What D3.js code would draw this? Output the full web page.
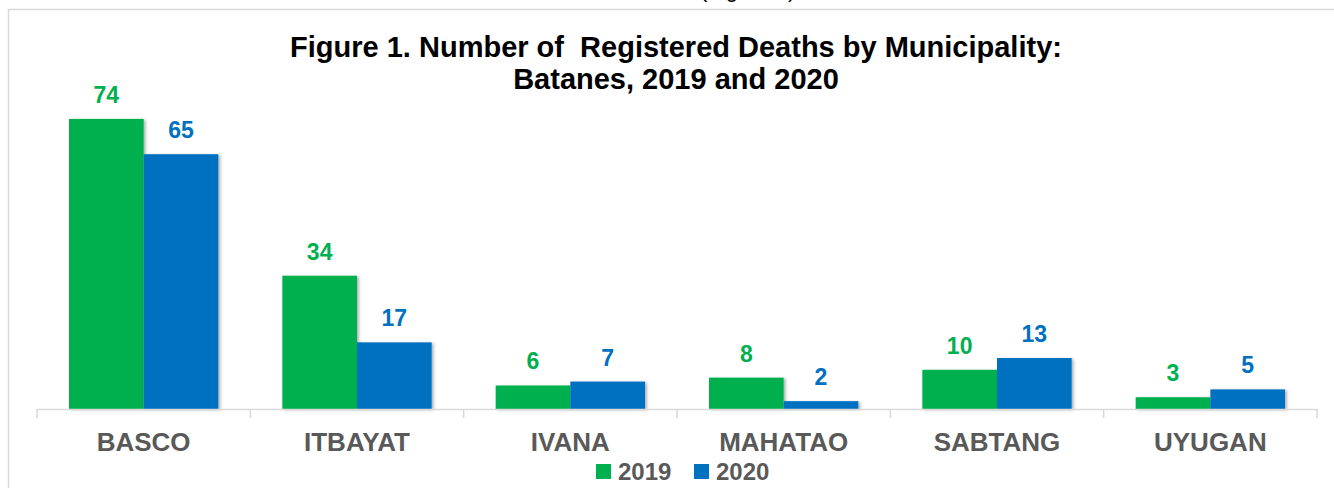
<!DOCTYPE html>
<html lang="en">
<head>
  <meta charset="UTF-8">
  <title>Registered Deaths by Municipality: Batanes</title>
  <script src="https://d3js.org/d3.v7.min.js"></script>
  <style>
    body { margin: 0; background: #fff; font-family: Arial, "Liberation Sans", sans-serif; }
    svg { display: block; }
    .title { font-size: 29px; font-weight: bold; fill: #000; }
    .cat-label { font-size: 26px; font-weight: bold; fill: #595959; }
    .val-label { font-size: 23px; font-weight: bold; }
    .legend-text { font-size: 24px; font-weight: bold; fill: #595959; }
  </style>
</head>
<body>
  <svg id="chart"></svg>
  <script>
    // Data
    const municipalities = ["BASCO", "ITBAYAT", "IVANA", "MAHATAO", "SABTANG", "UYUGAN"];
    const deaths2019 = [74, 34, 6, 8, 10, 3];
    const deaths2020 = [65, 17, 7, 2, 13, 5];
    const seriesNames = ["2019", "2020"];
    const seriesColors = ["#00B050", "#0070C0"];

    const W = 1334, H = 488;
    const svg = d3.select("#chart").attr("width", W).attr("height", H);

    // Drop shadow for bars
    const defs = svg.append("defs");
    const f = defs.append("filter").attr("id", "shadow")
      .attr("x", "-10%").attr("y", "-10%").attr("width", "130%").attr("height", "130%");
    f.append("feDropShadow").attr("dx", 2).attr("dy", 1).attr("stdDeviation", 1.5)
      .attr("flood-color", "#000").attr("flood-opacity", 0.3);

    // Cut-off text from the page above
    svg.append("text").attr("x", 700).attr("y", -3)
      .style("font-size", "22px").text("(Figure 1)");

    // Chart frame
    svg.append("path")
      .attr("d", `M8.5,${H} V9.5 H${W}`)
      .attr("fill", "none").attr("stroke", "#d9d9d9").attr("stroke-width", 1.5);

    // Title
    const title = svg.append("text").attr("class", "title").attr("text-anchor", "middle");
    title.append("tspan").attr("x", 676).attr("y", 57)
      .style("white-space", "pre")
      .text("Figure 1. Number of  Registered Deaths by Municipality:");
    title.append("tspan").attr("x", 676).attr("y", 89).text("Batanes, 2019 and 2020");

    // Scales
    const x0 = d3.scaleBand().domain(municipalities).range([37, 1317]).paddingInner(0).paddingOuter(0);
    const y = d3.scaleLinear().domain([0, 80]).range([409, 95.4]);
    const innerPad = 32;
    const x1 = d3.scaleBand().domain(seriesNames)
      .range([innerPad, x0.bandwidth() - innerPad]).padding(0);

    const data = municipalities.map((m, i) => ({
      name: m,
      values: [
        { key: "2019", value: deaths2019[i], color: seriesColors[0] },
        { key: "2020", value: deaths2020[i], color: seriesColors[1] }
      ]
    }));

    // Bars
    const groups = svg.append("g").selectAll("g").data(data).join("g")
      .attr("transform", d => `translate(${x0(d.name)},0)`);

    groups.selectAll("rect").data(d => d.values).join("rect")
      .attr("x", d => x1(d.key))
      .attr("y", d => y(d.value))
      .attr("width", x1.bandwidth())
      .attr("height", d => y(0) - y(d.value))
      .attr("fill", d => d.color)
      .attr("filter", "url(#shadow)");

    groups.selectAll("text.val-label").data(d => d.values).join("text")
      .attr("class", "val-label")
      .attr("text-anchor", "middle")
      .attr("x", d => x1(d.key) + x1.bandwidth() / 2)
      .attr("y", d => y(d.value) - 16)
      .attr("fill", d => d.color)
      .text(d => d.value);

    // X axis
    const axis = svg.append("g").attr("transform", `translate(0,${y(0)})`)
      .call(d3.axisBottom(x0).tickSize(0).tickFormat(""));
    axis.select(".domain").attr("stroke", "#d9d9d9").attr("stroke-width", 1.5);
    const bounds = municipalities.map(m => x0(m)).concat([x0.range()[1]]);
    axis.selectAll("line.sep").data(bounds).join("line")
      .attr("class", "sep")
      .attr("x1", d => d).attr("x2", d => d)
      .attr("y1", 0).attr("y2", 9)
      .attr("stroke", "#d9d9d9").attr("stroke-width", 1.5);

    svg.append("g").selectAll("text").data(municipalities).join("text")
      .attr("class", "cat-label")
      .attr("text-anchor", "middle")
      .attr("x", d => x0(d) + x0.bandwidth() / 2)
      .attr("y", 451)
      .text(d => d);

    // Legend
    const legendX = [596, 694];
    const legend = svg.append("g").selectAll("g").data(seriesNames).join("g")
      .attr("transform", (d, i) => `translate(${legendX[i]},464)`);
    legend.append("rect").attr("width", 15).attr("height", 15)
      .attr("fill", (d, i) => seriesColors[i]);
    legend.append("text").attr("class", "legend-text")
      .attr("x", 22).attr("y", 16).text(d => d);
  </script>
</body>
</html>
